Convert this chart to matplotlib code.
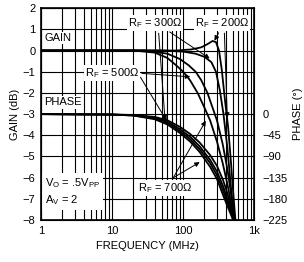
import matplotlib
matplotlib.use("Agg")
import matplotlib.pyplot as plt
from matplotlib.ticker import FixedLocator, LogLocator, NullFormatter

plt.rcParams['font.family'] = ['Liberation Sans', 'DejaVu Sans']

# Gain curves (frequency MHz, gain dB)
f700 = [1, 20, 40, 60, 80, 100, 125, 160, 200, 240, 300, 360, 420, 480, 530]
g700 = [0, 0, -0.1, -0.35, -0.7, -1.0, -1.4, -2.0, -2.7, -3.3, -4.3, -5.3, -6.3, -7.3, -8.0]
f500 = [1, 30, 60, 90, 120, 150, 180, 220, 260, 300, 360, 420, 480, 530]
g500 = [0, 0, -0.15, -0.4, -0.7, -1.0, -1.4, -2.0, -2.7, -3.3, -4.4, -5.6, -6.9, -8.0]
f300 = [1, 50, 100, 150, 200, 250, 290, 330, 370, 420, 470, 520]
g300 = [0, 0, -0.05, -0.15, -0.3, -0.55, -1.0, -1.9, -3.0, -4.6, -6.4, -8.0]
f200 = [1, 80, 130, 180, 220, 260, 290, 320, 350, 390, 430, 470, 510, 545]
g200 = [0, 0, 0.05, 0.15, 0.3, 0.45, 0.4, 0.0, -0.9, -2.4, -3.6, -5.2, -6.8, -8.0]

# Phase curves (frequency MHz, phase degrees)
fp = [1, 10, 20, 40, 60, 90, 125, 170, 240, 300, 365, 420, 470]
p700 = [0, -1, -3, -11, -22, -40, -58, -80, -112, -138, -172, -195, -213]
p500 = [0, -1, -3, -9, -19, -36, -53, -74, -104, -130, -162, -188, -208]
p300 = [0, -1, -2, -8, -16, -32, -48, -68, -97, -122, -153, -180, -203]
p200 = [0, -1, -2, -6, -13, -27, -42, -60, -87, -110, -140, -168, -195]
fp_end = [505, 520, 530, 545]
p_end = -225

gain_ticks = [2, 1, 0, -1, -2, -3, -4, -5, -6, -7, -8]
phase_ticks = [0, -45, -90, -135, -180, -225]
x_ticks = [1, 10, 100, 1000]
x_labels = ["1", "10", "100", "1k"]

fig = plt.figure(figsize=(3.04, 2.62), dpi=100)
ax = fig.add_axes([0.135, 0.160, 0.701, 0.809])
ax.set_xscale('log')
ax.set_xlim(1, 1000)
ax.set_ylim(-8, 2)
ax.yaxis.set_major_locator(FixedLocator(gain_ticks))
ax.set_xticks(x_ticks)
ax.set_xticklabels(x_labels)
ax.xaxis.set_minor_locator(LogLocator(base=10, subs=range(2, 10)))
ax.xaxis.set_minor_formatter(NullFormatter())
ax.grid(True, which='both', axis='x', color='black', lw=0.8)
ax.grid(True, which='major', axis='y', color='black', lw=0.8)
ax.tick_params(axis='both', which='both', direction='in', labelsize=8, length=2, pad=4)
ax.tick_params(axis='y', length=0)
for s in ax.spines.values():
    s.set_linewidth(1.2)

lw = 1.3
for f, g in [(f700, g700), (f500, g500), (f300, g300), (f200, g200)]:
    ax.plot(f, g, color='black', lw=lw)

ax2 = ax.twinx()
ax2.set_ylim(-225, 225)
ax2.yaxis.set_major_locator(FixedLocator(phase_ticks))
ax2.tick_params(axis='y', length=0, labelsize=8, pad=6)
for p, fe in zip([p700, p500, p300, p200], fp_end):
    ax2.plot(fp + [fe], p + [p_end], color='black', lw=lw)

ax.set_xlabel("FREQUENCY (MHz)", fontsize=8, labelpad=4)
ax.set_ylabel("GAIN (dB)", fontsize=8, labelpad=2)
ax2.set_ylabel("PHASE (°)", fontsize=8, labelpad=4)

box = dict(facecolor='white', edgecolor='none', pad=0.8)
tk = dict(fontsize=8, color='black')
ax.text(1.12, 0.6, "GAIN", va='center', ha='left', bbox=box, **tk)
ax.text(1.12, -2.45, "PHASE", va='center', ha='left', bbox=box, **tk)
ax.text(1.12, -6.65, "V$_\\mathregular{O}$ = .5V$_\\mathregular{PP}$\nA$_\\mathregular{V}$ = 2",
        va='center', ha='left', linespacing=1.3,
        bbox=dict(facecolor='white', edgecolor='none', pad=2.5), **tk)

ap = dict(arrowstyle='-|>', color='black', lw=0.7, mutation_scale=7)
def label(txt, xy, targets):
    ax.text(xy[0], xy[1], txt, ha='center', va='center', bbox=box, **tk)
    for src, tgt in targets:
        ax.annotate("", xy=tgt, xytext=src, arrowprops=ap)

label("R$_\\mathregular{F}$ = 300Ω", (40, 1.3),
      [((60, 0.95), (255, -0.45)), ((45, 0.95), (56, -3.4))])
label("R$_\\mathregular{F}$ = 200Ω", (350, 1.3),
      [((330, 0.95), (265, 0.35)), ((380, 0.95), (420, -3.3))])
label("R$_\\mathregular{F}$ = 500Ω", (10, -1.07),
      [((24, -1.07), (138, -1.25)), ((24, -1.15), (62, -3.45))])
label("R$_\\mathregular{F}$ = 700Ω", (56, -6.5),
      [((70, -6.1), (218, -3.2)), ((65, -6.1), (185, -5.2))])

fig.savefig("out.png", dpi=100)
